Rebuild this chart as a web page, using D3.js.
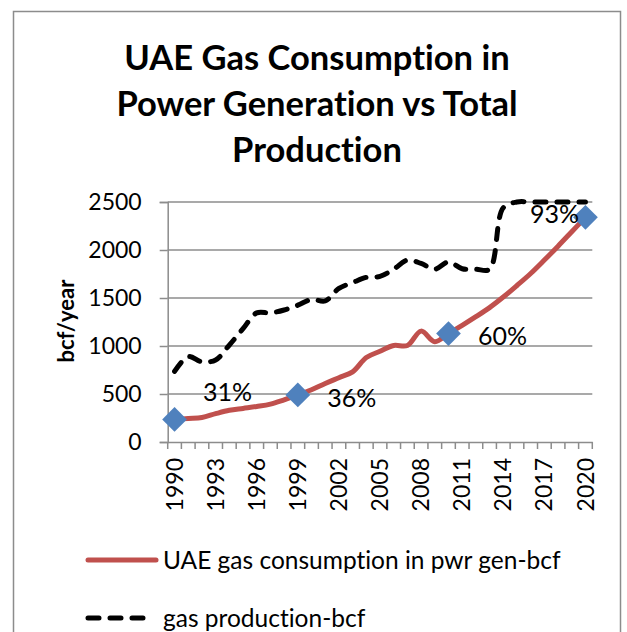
<!DOCTYPE html>
<html>
<head>
<meta charset="utf-8">
<script src="https://cdn.jsdelivr.net/npm/d3@7"></script>
<style>
  body { margin: 0; background: #fff; }
  svg { display: block; font-family: Lato, "Noto Sans", sans-serif; font-variant-ligatures: none; }
</style>
</head>
<body>
<div id="chart"></div>
<script>
// chart data
var years = [1990, 1991, 1992, 1993, 1994, 1995, 1996, 1997, 1998, 1999,
             2000, 2001, 2002, 2003, 2004, 2005, 2006, 2007, 2008, 2009,
             2010, 2011, 2012, 2013, 2014, 2015, 2016, 2017, 2018, 2019, 2020];
var consumption = [235, 245, 255, 295, 330, 350, 370, 395, 440, 490,
                   545, 610, 670, 730, 880, 945, 1005, 1005, 1155, 1045,
                   1130, 1215, 1305, 1400, 1510, 1630, 1755, 1895, 2040, 2190, 2340];
var production = [735, 890, 835, 855, 1010, 1180, 1345, 1345, 1375, 1425,
                  1485, 1470, 1600, 1660, 1715, 1725, 1800, 1895, 1860, 1800,
                  1875, 1805, 1800, 1800, 2440, 2500, 2500, 2500, 2500, 2500, 2500];
var shareYears = [1990, 1999, 2010, 2020];
var shareValues = [235, 490, 1130, 2340];
var shareLabels = ["31%", "36%", "60%", "93%"];
var yTicks = [0, 500, 1000, 1500, 2000, 2500];
var xTickLabels = [1990, 1993, 1996, 1999, 2002, 2005, 2008, 2011, 2014, 2017, 2020];
var titleLines = ["UAE Gas Consumption in", "Power Generation vs Total", "Production"];
var seriesNames = ["UAE gas consumption in pwr gen-bcf", "gas production-bcf"];

// label nudges (where the labels sit around their diamonds)
var labelOffsets = [[53, -27], [54, 3], [54, 3], [-31, -3]];

var W = 627, H = 632;
var plot = {left: 167.7, right: 592.3, top: 202, bottom: 442};

var svg = d3.select("#chart").append("svg")
    .attr("width", W)
    .attr("height", H);

// chart frame
svg.append("rect")
    .attr("x", 13.5).attr("y", 11.5)
    .attr("width", 607).attr("height", 640)
    .attr("fill", "#fff")
    .attr("stroke", "#8c8c8c")
    .attr("stroke-width", 1.5);

// title
svg.append("text")
    .attr("text-anchor", "middle")
    .attr("font-weight", "bold")
    .attr("font-size", 34.5)
    .attr("fill", "#000")
  .selectAll("tspan")
  .data(titleLines)
  .enter().append("tspan")
    .attr("x", 317)
    .attr("y", function(d, i) { return 70 + i * 45.8; })
    .text(function(d) { return d; });

// scales
var x = d3.scaleBand().domain(years).range([plot.left, plot.right]).padding(0);
var y = d3.scaleLinear().domain([0, 2500]).range([plot.bottom, plot.top]);
var cx = function(yr) { return x(yr) + x.bandwidth() / 2; };

// gridlines
svg.append("g")
  .selectAll("line")
  .data(yTicks.slice(1))
  .enter().append("line")
    .attr("x1", plot.left).attr("x2", plot.right)
    .attr("y1", y).attr("y2", y)
    .attr("stroke", "#8c8c8c")
    .attr("stroke-width", 1.5);

// y axis
var yAxis = svg.append("g")
    .attr("transform", "translate(" + plot.left + ",0)")
    .call(d3.axisLeft(y).tickValues(yTicks).tickFormat(d3.format("d")).tickSize(8).tickPadding(18));
yAxis.select(".domain").attr("stroke", "#8c8c8c").attr("stroke-width", 1.5);
yAxis.selectAll(".tick line").attr("stroke", "#8c8c8c").attr("stroke-width", 1.5);
yAxis.selectAll(".tick text")
    .attr("font-family", "Lato, sans-serif")
    .attr("font-size", 23)
    .attr("fill", "#000");

// x axis: labels every 3 years, ticks on category boundaries
var xAxis = svg.append("g")
    .attr("transform", "translate(0," + plot.bottom + ")")
    .call(d3.axisBottom(x).tickValues(xTickLabels).tickSize(0).tickPadding(0));
xAxis.select(".domain").attr("stroke", "#8c8c8c").attr("stroke-width", 1.5);
xAxis.selectAll(".tick text")
    .attr("font-family", "Lato, sans-serif")
    .attr("font-size", 23)
    .attr("fill", "#000")
    .attr("text-anchor", "end")
    .attr("transform", "rotate(-90)")
    .attr("x", -16)
    .attr("y", 0)
    .attr("dy", "0.35em");

xAxis.append("g")
  .selectAll("line")
  .data(years.concat([null]))
  .enter().append("line")
    .attr("x1", function(d, i) { return plot.left + i * x.step(); })
    .attr("x2", function(d, i) { return plot.left + i * x.step(); })
    .attr("y1", 0).attr("y2", 7)
    .attr("stroke", "#8c8c8c")
    .attr("stroke-width", 1.5);

// axis title
svg.append("text")
    .attr("transform", "translate(66,321) rotate(-90)")
    .attr("text-anchor", "middle")
    .attr("dy", "0.35em")
    .attr("font-weight", "bold")
    .attr("font-size", 22)
    .text("bcf/year");

// lines
var line = d3.line()
    .x(function(d) { return cx(d[0]); })
    .y(function(d) { return y(d[1]); })
    .curve(d3.curveCatmullRom.alpha(0.5));

svg.append("path")
    .datum(d3.zip(years, consumption))
    .attr("d", line)
    .attr("fill", "none")
    .attr("stroke", "#C0504D")
    .attr("stroke-width", 5)
    .attr("stroke-linejoin", "round");

svg.append("path")
    .datum(d3.zip(years, production))
    .attr("d", line)
    .attr("fill", "none")
    .attr("stroke", "#000")
    .attr("stroke-width", 5)
    .attr("stroke-linecap", "round")
    .attr("stroke-dasharray", "11,11");

// share markers
var diamond = d3.symbol().type(d3.symbolDiamond2).size(390);
var shares = d3.zip(shareYears, shareValues, shareLabels);

svg.append("g")
  .selectAll("path")
  .data(shares)
  .enter().append("path")
    .attr("d", diamond)
    .attr("transform", function(d) { return "translate(" + cx(d[0]) + "," + y(d[1]) + ")"; })
    .attr("fill", "#4F81BD");

svg.append("g")
  .selectAll("text")
  .data(shares)
  .enter().append("text")
    .attr("x", function(d, i) { return cx(d[0]) + labelOffsets[i][0]; })
    .attr("y", function(d, i) { return y(d[1]) + labelOffsets[i][1]; })
    .attr("text-anchor", "middle")
    .attr("dy", "0.35em")
    .attr("font-size", 25)
    .text(function(d) { return d[2]; });

// legend
var legend = svg.append("g");
var legendRows = [
  {name: seriesNames[0], y: 560, color: "#C0504D", dash: null, x2: 156},
  {name: seriesNames[1], y: 618, color: "#000", dash: "11,11", x2: 150}
];
legendRows.forEach(function(r) {
  legend.append("line")
      .attr("x1", 88).attr("x2", r.x2)
      .attr("y1", r.y).attr("y2", r.y)
      .attr("stroke", r.color)
      .attr("stroke-width", 5)
      .attr("stroke-linecap", "round")
      .attr("stroke-dasharray", r.dash);
  legend.append("text")
      .attr("x", 163)
      .attr("y", r.y)
      .attr("dy", "0.35em")
      .attr("font-size", 24.5)
      .text(r.name);
});
</script>
</body>
</html>
